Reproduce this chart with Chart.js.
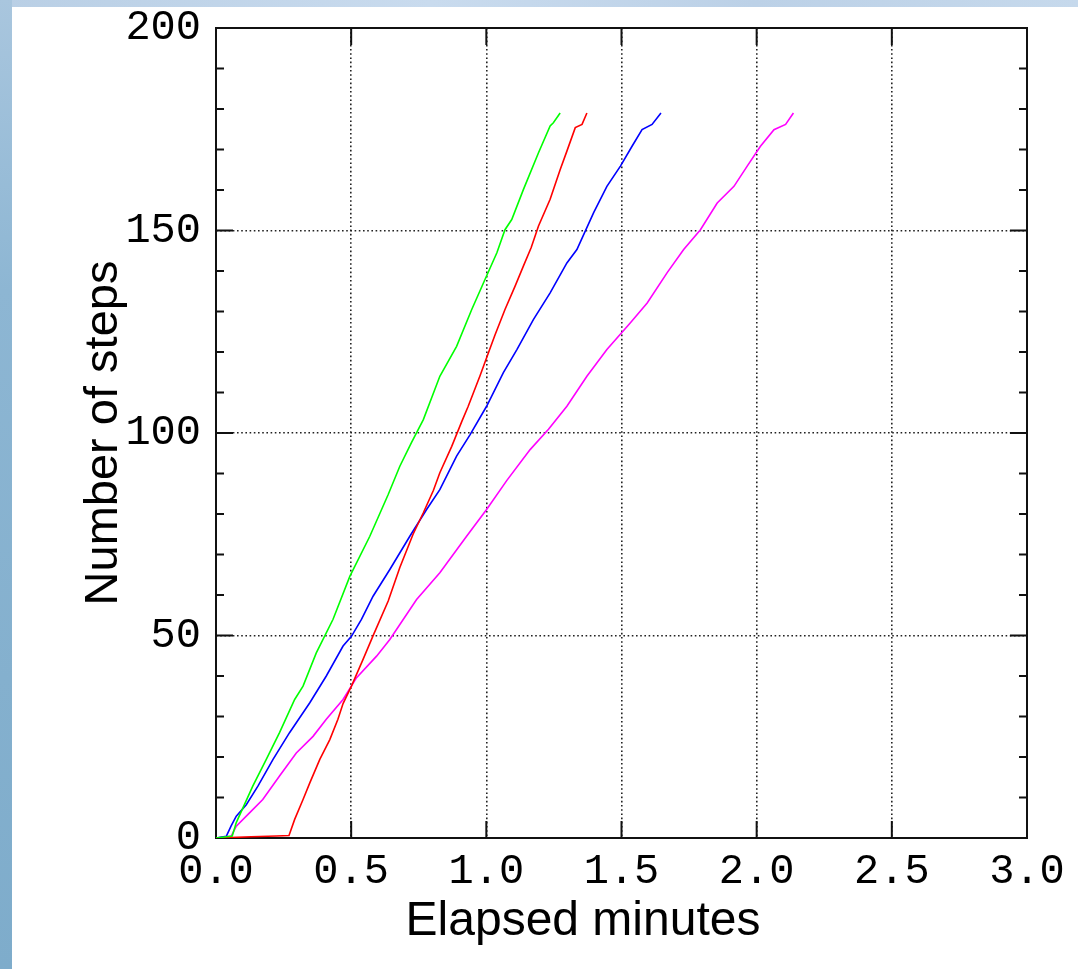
<!DOCTYPE html>
<html>
<head>
<meta charset="utf-8">
<script src="https://cdn.jsdelivr.net/npm/chart.js@4.4.0/dist/chart.umd.min.js"></script>
<style>
  html, body { margin: 0; padding: 0; background: #fff; }
  #stripTop { position: absolute; left: 0; top: 0; width: 1078px; height: 7px;
    background: linear-gradient(90deg, #b9cfe5, #c9dbee 40%, #bcd1e7 70%, #c6d9ec); }
  #stripLeft { position: absolute; left: 0; top: 0; width: 12px; height: 969px;
    background: linear-gradient(180deg, #a9c6de, #8db6d3 30%, #84b0ce 70%, #7eaccb); }
  #chart { position: absolute; left: 0; top: 0; }
</style>
</head>
<body>
<div id="stripTop"></div>
<div id="stripLeft"></div>
<canvas id="chart" width="1078" height="969"></canvas>
<script>
// data (elapsed minutes / number of steps)
const greenMinutes = [0, 0.06, 0.075, 0.136, 0.186, 0.235, 0.291, 0.322, 0.371, 0.433, 0.495, 0.569, 0.637, 0.68, 0.723, 0.767, 0.828, 0.89, 0.946, 0.995, 1.039, 1.069, 1.094, 1.137, 1.193, 1.236, 1.248, 1.273];
const greenSteps = [0, 0.5, 3.8, 12.8, 19.4, 26, 34.2, 37.5, 45.7, 54, 64.6, 74.5, 84.8, 91.8, 97.6, 103.3, 114, 121.4, 130.5, 137.9, 144.5, 150.2, 152.7, 160.1, 169.2, 175.8, 176.6, 179];

const redMinutes = [0, 0.13, 0.224, 0.27, 0.291, 0.322, 0.347, 0.384, 0.421, 0.451, 0.47, 0.501, 0.544, 0.584, 0.637, 0.68, 0.729, 0.767, 0.804, 0.828, 0.872, 0.909, 0.933, 0.977, 1.001, 1.032, 1.069, 1.106, 1.137, 1.166, 1.193, 1.236, 1.273, 1.298, 1.329, 1.354, 1.372];
const redSteps = [0, 0.3, 0.5, 0.6, 4.6, 9.5, 13.6, 19.4, 24.3, 29.3, 33.2, 37.5, 44.1, 50.4, 58.5, 66.8, 75, 80.3, 85.8, 90.2, 96.7, 102.8, 106.6, 114.2, 118.6, 124.2, 130.5, 136.2, 141.2, 145.8, 151.1, 157.7, 165, 169.6, 175.4, 176.2, 179];

const blueMinutes = [0, 0.038, 0.056, 0.075, 0.112, 0.155, 0.211, 0.272, 0.347, 0.408, 0.47, 0.501, 0.538, 0.581, 0.643, 0.717, 0.779, 0.828, 0.89, 0.94, 1.001, 1.063, 1.113, 1.174, 1.236, 1.298, 1.335, 1.397, 1.446, 1.496, 1.539, 1.576, 1.613, 1.646];
const blueSteps = [0, 0.4, 3, 5.4, 8.2, 12.8, 19.4, 26, 33.4, 40, 47.4, 49.8, 54, 59.7, 66.3, 74.5, 81.1, 86, 94.3, 99.6, 106.6, 114.9, 120.6, 128, 134.6, 142, 145.3, 154.4, 160.9, 165.9, 170.8, 174.9, 176.2, 179];

const magentaMinutes = [0, 0.056, 0.075, 0.124, 0.173, 0.235, 0.297, 0.359, 0.408, 0.47, 0.52, 0.594, 0.643, 0.742, 0.828, 0.927, 1.001, 1.076, 1.162, 1.23, 1.298, 1.372, 1.446, 1.533, 1.595, 1.669, 1.73, 1.792, 1.854, 1.916, 1.965, 2.014, 2.064, 2.107, 2.136];
const magentaSteps = [0, 0.4, 2.9, 6.2, 9.5, 15.3, 21, 25.1, 29.3, 34.2, 39.6, 44.9, 49, 58.9, 65.5, 74.5, 81.1, 88.3, 95.9, 100.9, 106.6, 114, 120.6, 127.2, 132.1, 139.6, 145.3, 150.2, 156.8, 160.9, 165.9, 170.8, 174.9, 176.2, 179];

const xTicks = [0, 0.5, 1, 1.5, 2, 2.5, 3];
const yTicks = [0, 50, 100, 150, 200];
const yMinorStep = 10;
const xTitle = "Elapsed minutes";
const yTitle = "Number of steps";

function pts(xs, ys) {
  return xs.map((v, i) => ({ x: v, y: ys[i] }));
}

// solid frame + inward tick marks, drawn under the curves
const frameTicks = {
  id: "frameTicks",
  beforeDatasetsDraw(chart) {
    const { ctx, chartArea: a, scales } = chart;
    ctx.save();
    ctx.strokeStyle = "#111";
    ctx.lineWidth = 2;
    ctx.beginPath();
    for (let v = 0; v <= 200; v += yMinorStep) {
      const py = scales.y.getPixelForValue(v);
      const len = yTicks.includes(v) ? 17 : 8;
      ctx.moveTo(a.left, py); ctx.lineTo(a.left + len, py);
      ctx.moveTo(a.right, py); ctx.lineTo(a.right - len, py);
    }
    xTicks.forEach((v) => {
      const px = scales.x.getPixelForValue(v);
      ctx.moveTo(px, a.bottom); ctx.lineTo(px, a.bottom - 17);
      ctx.moveTo(px, a.top); ctx.lineTo(px, a.top + 17);
    });
    ctx.stroke();
    ctx.strokeRect(a.left, a.top, a.right - a.left, a.bottom - a.top);

    ctx.fillStyle = "#000";
    ctx.font = "48px 'Liberation Sans', Arial, sans-serif";
    ctx.textAlign = "center";
    ctx.textBaseline = "alphabetic";
    ctx.fillText(xTitle, 583, 935);
    ctx.restore();
  },
};

const tickFont = { family: "'Liberation Mono', monospace", size: 42 };

new Chart(document.getElementById("chart"), {
  type: "line",
  data: {
    datasets: [
      { data: pts(greenMinutes, greenSteps), borderColor: "#00ff00" },
      { data: pts(redMinutes, redSteps), borderColor: "#ff0000" },
      { data: pts(blueMinutes, blueSteps), borderColor: "#0000ff" },
      { data: pts(magentaMinutes, magentaSteps), borderColor: "#ff00ff" },
    ],
  },
  options: {
    responsive: false,
    animation: false,
    layout: { padding: { left: 0, top: 28, right: 51, bottom: 0 } },
    plugins: { legend: { display: false }, tooltip: { enabled: false } },
    elements: {
      point: { radius: 0 },
      line: { borderWidth: 1.6, tension: 0, fill: false },
    },
    scales: {
      x: {
        type: "linear",
        min: 0,
        max: 3,
        afterBuildTicks: (s) => { s.ticks = xTicks.map((v) => ({ value: v })); },
        afterFit: (s) => { s.height = 131; s.paddingLeft = 0; s.paddingRight = 0; },
        grid: { color: "#222", lineWidth: 1.6, drawTicks: false },
        border: { display: false, dash: [1.6, 2.6] },
        ticks: {
          color: "#000",
          font: tickFont,
          padding: 9,
          maxRotation: 0,
          callback: (v) => Number(v).toFixed(1),
        },
      },
      y: {
        type: "linear",
        min: 0,
        max: 200,
        afterBuildTicks: (s) => { s.ticks = yTicks.map((v) => ({ value: v })); },
        afterFit: (s) => { s.width = 216; s.paddingTop = 0; s.paddingBottom = 0; },
        grid: { color: "#222", lineWidth: 1.6, drawTicks: false },
        border: { display: false, dash: [1.6, 2.6] },
        ticks: { color: "#000", font: tickFont, padding: 15 },
        title: {
          display: true,
          text: yTitle,
          color: "#000",
          font: { family: "'Liberation Sans', Arial, sans-serif", size: 47 },
          padding: { top: 76, bottom: 0 },
        },
      },
    },
  },
  plugins: [frameTicks],
});
</script>
</body>
</html>
